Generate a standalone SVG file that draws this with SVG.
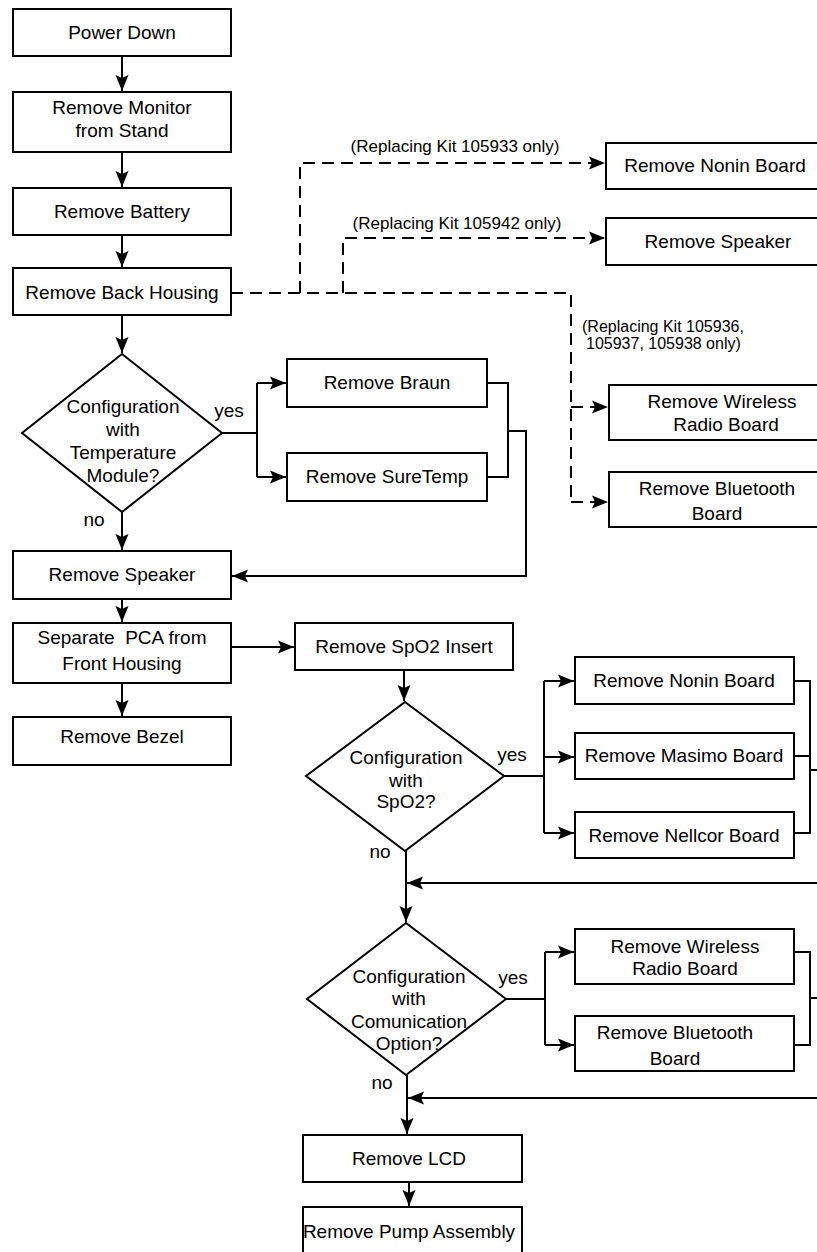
<svg xmlns="http://www.w3.org/2000/svg" width="817" height="1252" viewBox="0 0 817 1252">
<style>
.b{fill:#fff;stroke:#000;stroke-width:2}
.t{font-family:"Liberation Sans",Arial,sans-serif;font-size:19px;fill:#000;text-anchor:middle}
.l{font-family:"Liberation Sans",Arial,sans-serif;font-size:17px;fill:#000}
.s{font-size:16px}
.c{fill:none;stroke:#000;stroke-width:2}
.a{marker-end:url(#ah)}
.d{fill:none;stroke:#000;stroke-width:2;stroke-dasharray:12,7}
</style>
<defs>
<marker id="ah" markerUnits="userSpaceOnUse" markerWidth="17" markerHeight="14" viewBox="0 -7 17 14" refX="16" refY="0" orient="auto">
<path d="M0,-6.5 L16,0 L0,6.5 L3,0 Z" fill="#000"/>
</marker>
</defs>
<rect width="817" height="1252" fill="#fff"/>
<g id="connectors">
<path class="c a" d="M122,56 V91"/>
<path class="c a" d="M122,152 V187"/>
<path class="c a" d="M122,235 V267"/>
<path class="c a" d="M122,315 V353"/>
<path class="c" d="M222,433 H257 M257,383 V477"/>
<path class="c a" d="M257,383 H286"/>
<path class="c a" d="M257,477 H286"/>
<path class="c" d="M487,383 H508 V477 H487"/>
<path class="c a" d="M508,431 H526 V576 H232"/>
<path class="c a" d="M122,512 V550"/>
<path class="c a" d="M122,599 V622"/>
<path class="c a" d="M231,647 H294"/>
<path class="c a" d="M122,683 V716"/>
<path class="c a" d="M404,670 V701"/>
<path class="c" d="M504,776 H544 M544,681 V833"/>
<path class="c a" d="M544,681 H574"/>
<path class="c a" d="M544,757 H574"/>
<path class="c a" d="M544,833 H574"/>
<path class="c" d="M794,681 H810 V833 H794 M794,756 H810 M810,770 H820"/>
<path class="c a" d="M820,883 H407"/>
<path class="c a" d="M406,851 V922"/>
<path class="c" d="M506,999 H545 M545,952 V1045"/>
<path class="c a" d="M545,952 H574"/>
<path class="c a" d="M545,1045 H574"/>
<path class="c" d="M794,952 H810 V1045 H794 M810,998 H820"/>
<path class="c a" d="M820,1098 H408"/>
<path class="c a" d="M407,1075 V1134"/>
<path class="c a" d="M409,1182 V1206"/>
<path class="d" d="M231,293 H571 V502"/>
<path class="d a" d="M300,293 V163 H605"/>
<path class="d a" d="M343,293 V238 H605"/>
<path class="d a" d="M571,407 H608"/>
<path class="d a" d="M571,502 H608"/>
<text class="l" x="455" y="152" text-anchor="middle">(Replacing Kit 105933 only)</text>
<text class="l" x="457" y="229" text-anchor="middle">(Replacing Kit 105942 only)</text>
<text class="l s" x="582" y="332">(Replacing Kit 105936,</text>
<text class="l s" x="586" y="349">105937, 105938 only)</text>
<text class="t" x="229" y="417">yes</text>
<text class="t" x="94" y="526">no</text>
<text class="t" x="512" y="761">yes</text>
<text class="t" x="380" y="858">no</text>
<text class="t" x="513" y="984">yes</text>
<text class="t" x="382" y="1089">no</text>
</g>
<g id="power-down"><rect class="b" x="13" y="9" width="218" height="47"/><text class="t" x="122" y="39">Power Down</text></g>
<g id="remove-monitor"><rect class="b" x="13" y="92" width="218" height="60"/><text class="t" x="122" y="114">Remove Monitor</text><text class="t" x="122" y="137">from Stand</text></g>
<g id="remove-battery"><rect class="b" x="13" y="188" width="218" height="47"/><text class="t" x="122" y="218">Remove Battery</text></g>
<g id="remove-back-housing"><rect class="b" x="13" y="268" width="218" height="47"/><text class="t" x="122" y="299">Remove Back Housing</text></g>
<g id="dec-temp"><polygon class="b" points="122,354 222,433 122,512 22,433"/><text class="t" x="123" y="413">Configuration</text><text class="t" x="123" y="436">with</text><text class="t" x="123" y="459">Temperature</text><text class="t" x="123" y="482">Module?</text></g>
<g id="remove-braun"><rect class="b" x="287" y="359" width="200" height="48"/><text class="t" x="387" y="389">Remove Braun</text></g>
<g id="remove-suretemp"><rect class="b" x="287" y="453" width="200" height="48"/><text class="t" x="387" y="483">Remove SureTemp</text></g>
<g id="remove-speaker"><rect class="b" x="13" y="551" width="218" height="48"/><text class="t" x="122" y="581">Remove Speaker</text></g>
<g id="separate-pca"><rect class="b" x="13" y="623" width="218" height="60"/><text class="t" x="122" y="644" xml:space="preserve">Separate  PCA from</text><text class="t" x="122" y="670">Front Housing</text></g>
<g id="remove-bezel"><rect class="b" x="13" y="717" width="218" height="48"/><text class="t" x="122" y="743">Remove Bezel</text></g>
<g id="remove-spo2-insert"><rect class="b" x="295" y="623" width="218" height="47"/><text class="t" x="404" y="653">Remove SpO2 Insert</text></g>
<g id="dec-spo2"><polygon class="b" points="405,702 504,776 405,851 306,776"/><text class="t" x="406" y="764">Configuration</text><text class="t" x="406" y="787">with</text><text class="t" x="406" y="808">SpO2?</text></g>
<g id="remove-nonin"><rect class="b" x="575" y="657" width="219" height="47"/><text class="t" x="684" y="687">Remove Nonin Board</text></g>
<g id="remove-masimo"><rect class="b" x="575" y="733" width="219" height="46"/><text class="t" x="684" y="762">Remove Masimo Board</text></g>
<g id="remove-nellcor"><rect class="b" x="575" y="812" width="219" height="46"/><text class="t" x="684" y="842">Remove Nellcor Board</text></g>
<g id="dec-comm"><polygon class="b" points="406,923 506,999 406,1075 307,999"/><text class="t" x="409" y="983">Configuration</text><text class="t" x="409" y="1005">with</text><text class="t" x="409" y="1028">Comunication</text><text class="t" x="409" y="1050">Option?</text></g>
<g id="remove-wireless"><rect class="b" x="575" y="929" width="219" height="55"/><text class="t" x="685" y="953">Remove Wireless</text><text class="t" x="685" y="975">Radio Board</text></g>
<g id="remove-bluetooth"><rect class="b" x="575" y="1016" width="219" height="55"/><text class="t" x="675" y="1039">Remove Bluetooth</text><text class="t" x="675" y="1065">Board</text></g>
<g id="remove-lcd"><rect class="b" x="303" y="1135" width="219" height="47"/><text class="t" x="409" y="1165">Remove LCD</text></g>
<g id="remove-pump"><rect class="b" x="303" y="1207" width="219" height="52"/><text class="t" x="409" y="1238">Remove Pump Assembly</text></g>
<g id="kit-nonin"><rect class="b" x="606" y="143" width="220" height="46"/><text class="t" x="715" y="172">Remove Nonin Board</text></g>
<g id="kit-speaker"><rect class="b" x="606" y="218" width="220" height="47"/><text class="t" x="718" y="248">Remove Speaker</text></g>
<g id="kit-wireless"><rect class="b" x="609" y="385" width="220" height="55"/><text class="t" x="722" y="408">Remove Wireless</text><text class="t" x="726" y="431">Radio Board</text></g>
<g id="kit-bluetooth"><rect class="b" x="609" y="472" width="220" height="55"/><text class="t" x="717" y="495">Remove Bluetooth</text><text class="t" x="717" y="520">Board</text></g>
</svg>
